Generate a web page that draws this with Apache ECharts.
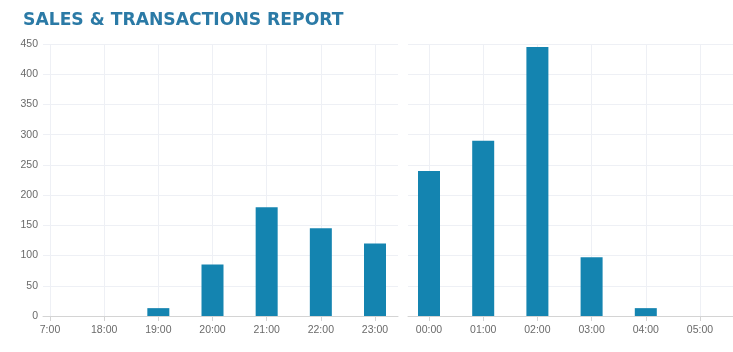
<!DOCTYPE html>
<html>
<head>
<meta charset="utf-8">
<script src="https://cdn.jsdelivr.net/npm/echarts@6/dist/echarts.min.js"></script>
<style>
  html, body { margin: 0; padding: 0; background: #fff; }
  #chart { width: 733px; height: 352px; }
</style>
</head>
<body>
<div id="chart"></div>
<script>
// data
const eveningHours = ['7:00', '18:00', '19:00', '20:00', '21:00', '22:00', '23:00'];
const eveningSales = [0, 0, 13, 85, 180, 145, 120];
const nightHours = ['00:00', '01:00', '02:00', '03:00', '04:00', '05:00'];
const nightSales = [240, 290, 445, 97, 13, 0];
const yMax = 450;
const yStep = 50;

const chart = echarts.init(document.getElementById('chart'), null, { renderer: 'canvas' });

const barColor = '#1484b0';
const gridLine = { lineStyle: { color: '#eef0f5', width: 1 } };
const axisColor = '#d4d4d4';
const labelStyle = { color: '#6a6a6a', fontSize: 10.5, fontFamily: 'Liberation Sans' };

// background grids carry the y split lines + axis line, front grids carry the categories
const option = {
    backgroundColor: '#fff',
    animation: false,
    title: {
        text: 'SALES & TRANSACTIONS REPORT',
        left: 18, top: 7,
        textStyle: { color: '#2b7aa6', fontSize: 17.2, fontWeight: 'bold', fontFamily: 'DejaVu Sans' }
    },
    grid: [
        { left: 43, top: 44, width: 355, height: 272 },
        { left: 50, top: 44, width: 325, height: 272 },
        { left: 408, top: 44, width: 345, height: 272 },
        { left: 429, top: 44, width: 271, height: 272 }
    ],
    xAxis: [
        { gridIndex: 0, type: 'value', min: 0, max: 1, axisLine: { show: true, lineStyle: { color: axisColor } },
          axisTick: { show: false }, axisLabel: { show: false }, splitLine: { show: false } },
        { gridIndex: 1, type: 'category', data: eveningHours, boundaryGap: false,
          axisLine: { show: false }, axisTick: { show: true, length: 5, lineStyle: { color: axisColor } },
          axisLabel: Object.assign({ margin: 9, interval: 0 }, labelStyle),
          splitLine: Object.assign({ show: true, interval: 0 }, gridLine) },
        { gridIndex: 2, type: 'value', min: 0, max: 1, axisLine: { show: true, lineStyle: { color: axisColor } },
          axisTick: { show: false }, axisLabel: { show: false }, splitLine: { show: false } },
        { gridIndex: 3, type: 'category', data: nightHours, boundaryGap: false,
          axisLine: { show: false }, axisTick: { show: true, length: 5, lineStyle: { color: axisColor } },
          axisLabel: Object.assign({ margin: 9, interval: 0 }, labelStyle),
          splitLine: Object.assign({ show: true, interval: 0 }, gridLine) }
    ],
    yAxis: [
        { gridIndex: 0, type: 'value', min: 0, max: yMax, interval: yStep,
          axisLine: { show: false }, axisTick: { show: false },
          axisLabel: Object.assign({ margin: 5 }, labelStyle),
          splitLine: Object.assign({ show: true }, gridLine) },
        { gridIndex: 1, type: 'value', min: 0, max: yMax, show: false },
        { gridIndex: 2, type: 'value', min: 0, max: yMax, interval: yStep,
          axisLine: { show: false }, axisTick: { show: false }, axisLabel: { show: false },
          splitLine: Object.assign({ show: true }, gridLine) },
        { gridIndex: 3, type: 'value', min: 0, max: yMax, show: false }
    ],
    series: [
        { type: 'bar', xAxisIndex: 1, yAxisIndex: 1, data: eveningSales, barWidth: 22,
          clip: false, itemStyle: { color: barColor } },
        { type: 'bar', xAxisIndex: 3, yAxisIndex: 3, data: nightSales, barWidth: 22,
          clip: false, itemStyle: { color: barColor } }
    ]
};

chart.setOption(option);
</script>
</body>
</html>
